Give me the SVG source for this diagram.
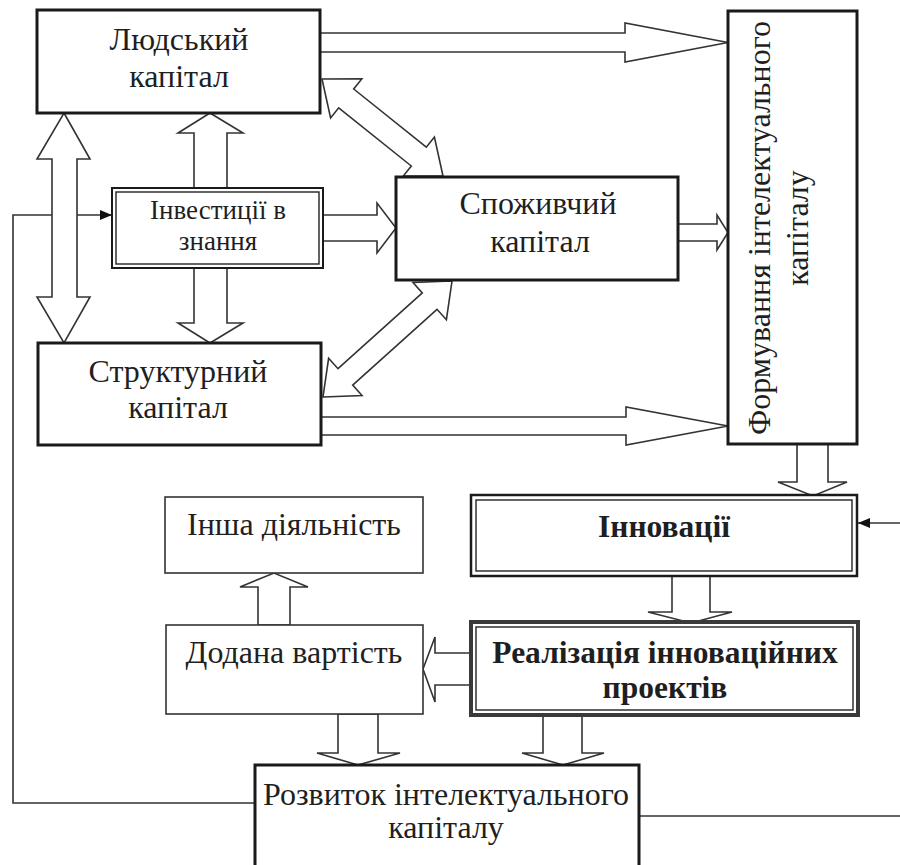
<svg xmlns="http://www.w3.org/2000/svg" width="900" height="865" viewBox="0 0 900 865">
<style>
.box{fill:#fff;stroke:#1a1a1a;stroke-width:3}
.thin{fill:#fff;stroke:#333;stroke-width:1.6}
.inner{fill:none;stroke:#222;stroke-width:1.4}
.arr{fill:#fff;stroke:#333;stroke-width:1.6;stroke-linejoin:miter}
.ln{fill:none;stroke:#333;stroke-width:1.6}
text{font-family:"Liberation Serif","Times New Roman",serif;font-size:32px;fill:#1f1f1f;text-anchor:middle}
.b{font-weight:bold;font-size:31.5px}
.s{font-size:27px}
</style>
<defs>
<marker id="ah" viewBox="0 0 12 10" refX="12" refY="5" markerWidth="12" markerHeight="10" markerUnits="userSpaceOnUse" orient="auto">
<path d="M0,0 L12,5 L0,10 Z" fill="#111"/>
</marker>
</defs>
<rect width="900" height="865" fill="#fff"/>
<g id="connectors">
<polyline class="ln" points="255,803 13,803 13,215 112,215" marker-end="url(#ah)"/>
<line class="ln" x1="900" y1="523" x2="858" y2="523" marker-end="url(#ah)"/>
<line class="ln" x1="639" y1="816" x2="900" y2="816"/>
<polygon class="arr" points="320,33 625,33 625,23 728,42.5 625,62 625,52 320,52"/>
<polygon class="arr" points="321,417 626,417 626,407 728,426 626,445 626,435 321,435"/>
<polygon class="arr" points="323,215 377,215 377,203 396,228 377,253 377,241 323,241"/>
<polygon class="arr" points="678,224 717,224 717,215 728,232.5 717,250 717,241 678,241"/>
<polygon class="arr" points="64,113 90,159 77,159 77,297 90,297 64,343 37,297 52,297 52,159 37,159"/>
<polygon class="arr" points="210,113 243,133 227,133 227,188 194,188 194,133 178,133"/>
<polygon class="arr" points="194,268 227,268 227,323 243,323 210,343 178,323 194,323"/>
<polygon class="arr" points="797,444 828,444 828,482 847,482 813,496 778,482 797,482"/>
<polygon class="arr" points="672,576 710,576 710,612 732,612 691,623 648,612 672,612"/>
<polygon class="arr" points="471,653 435,653 435,637 423,669 435,702 435,685 471,685"/>
<polygon class="arr" points="543,715 582,715 582,753 604,753 563,765 522,753 543,753"/>
<polygon class="arr" points="338,714 378,714 378,753 400,753 358,765 317,753 338,753"/>
<polygon class="arr" points="258,625 290,625 290,587 308,587 274,573 240,587 258,587"/>
<polygon class="arr" points="322,79 330.6,117.9 338.7,107.8 411.3,166 403.2,176.1 443,176 434.4,137.1 426.3,147.2 353.7,89 361.8,78.9"/>
<polygon class="arr" points="323,397 362,395.5 352.7,385.1 437,309.3 446.4,319.7 452,281 413,282.5 422.3,292.9 338,368.7 328.6,358.3"/>
</g>
<g id="n-lyudskyi">
<rect class="box" x="37" y="10" width="283" height="103"/>
<text x="179" y="50">Людський</text>
<text x="179" y="87">капітал</text>
</g>
<g id="n-investytsii">
<rect class="box" style="stroke-width:2" x="112" y="188" width="211" height="80"/>
<rect class="inner" x="116" y="192" width="203" height="72"/>
<text class="s" x="218" y="219">Інвестиції в</text>
<text class="s" x="218" y="250">знання</text>
</g>
<g id="n-spozhyvchyi">
<rect class="box" x="396" y="177" width="282" height="103"/>
<text x="538" y="214">Споживчий</text>
<text x="540" y="252">капітал</text>
</g>
<g id="n-formuvannia">
<rect class="box" x="728" y="11" width="129" height="433"/>
<text transform="translate(770,228) rotate(-90)" x="0" y="0">Формування інтелектуального</text>
<text transform="translate(770,228) rotate(-90)" x="0" y="38">капіталу</text>
</g>
<g id="n-strukturnyi">
<rect class="box" x="38" y="343" width="283" height="102"/>
<text x="178" y="382">Структурний</text>
<text x="178" y="418">капітал</text>
</g>
<g id="n-insha">
<rect class="thin" x="165" y="497" width="258" height="76"/>
<text x="294" y="535">Інша діяльність</text>
</g>
<g id="n-innovatsii">
<rect class="box" style="stroke-width:2.5" x="471" y="495" width="386" height="81"/>
<rect class="inner" x="476" y="500" width="376" height="71"/>
<text class="b" x="664" y="537">Інновації</text>
</g>
<g id="n-dodana">
<rect class="thin" x="166" y="625" width="257" height="89"/>
<text x="294" y="663">Додана вартість</text>
</g>
<g id="n-realizatsiia">
<rect class="box" style="stroke-width:4;stroke:#3a3a3a" x="471" y="622" width="387" height="93"/>
<rect class="inner" x="476" y="627" width="377" height="83"/>
<text class="b" x="665" y="663">Реалізація інноваційних</text>
<text class="b" x="665" y="698">проектів</text>
</g>
<g id="n-rozvytok">
<rect class="box" x="255" y="765" width="384" height="110"/>
<text x="446" y="805">Розвиток інтелектуального</text>
<text x="446" y="838">капіталу</text>
</g>
</svg>
